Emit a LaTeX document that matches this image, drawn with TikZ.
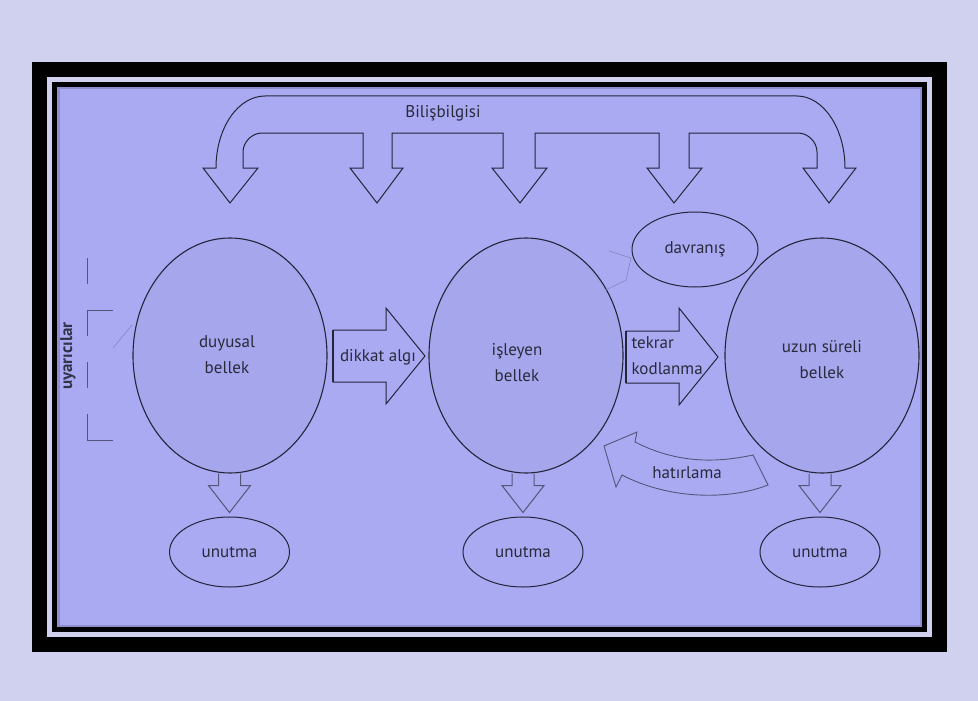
\documentclass[tikz,border=0pt]{standalone}
\usepackage{fontspec}
\setmainfont{PT Sans}
\usetikzlibrary{shapes.geometric,positioning,calc}
\definecolor{FrameLilac}{HTML}{D0D0EF}
\definecolor{PanelBlue}{HTML}{AAAAF3}
\definecolor{MemFill}{HTML}{A6A6EC}
\definecolor{LineInk}{HTML}{24243A}
\definecolor{SoftInk}{HTML}{55557A}
\definecolor{TextInk}{HTML}{2A2A3C}
\newcommand{\memfont}{\fontsize{17}{26}\selectfont}

\begin{document}
\begin{tikzpicture}[
  x=1pt, y=-1pt,
  mem/.style={ellipse, draw=LineInk, line width=1.1pt, fill=MemFill,
              minimum width=194pt, minimum height=235pt, inner sep=0pt},
  outcome/.style={ellipse, draw=LineInk, line width=1pt, text=TextInk,
              minimum width=120pt, minimum height=70pt, inner sep=0pt, font=\memfont},
  lbl/.style={text=TextInk, align=center, font=\memfont},
  hollow/.style={draw=LineInk, line width=1pt, line join=miter},
  faint/.style={draw=SoftInk, line width=0.9pt},
]
\useasboundingbox (0,0) rectangle (978,701);
% frame
\fill[FrameLilac] (0,0) rectangle (978,701);
\fill[black] (32,62) rectangle (947,652);
\fill[FrameLilac] (47,77) rectangle (932,637);
\fill[black] (52,82) rectangle (927,632);
\fill[PanelBlue] (57,87) rectangle (922,627);
\draw[black!35!PanelBlue, line width=2.5pt, opacity=0.45] (58.25,88.25) rectangle (920.75,625.75);

% memory stores
\node[mem] (duyusal) at (230,355.5) {};
\node[mem] (isleyen) at (526,355.5) {};
\node[mem] (uzun) at (822,355.5) {};
\node[lbl] (duyusalText) at (227,355) {duyusal\\bellek};
\node[lbl] (isleyenText) at (517,363) {işleyen\\bellek};
\node[lbl] (uzunText) at (822,360) {uzun süreli\\bellek};

% forgetting
\node[outcome] (forgetA) at (229.5,552) {unutma};
\node[outcome] (forgetB) at (523,552) {unutma};
\node[outcome] (forgetC) at (820,552) {unutma};
\node[outcome, minimum width=126pt, minimum height=75pt] (davranis) at (695,249.5) {davranış};

\foreach \src/\dst in {duyusal/forgetA, isleyen/forgetB, uzun/forgetC}{
  \coordinate (top) at (\src.south -| \dst.north);
  \draw[hollow, draw=SoftInk] ($(top)+(-11,0)$) -- ++(0,12) -- ++(-10,0)
    -- ($(top)+(0,39)$) -- ($(top)+(21,12)$) -- ++(-10,0) -- ++(0,-12);
}

% metacognition bracket
\draw[hollow] (216,168) .. controls (216,128) and (238,96) .. (265,96) -- (797,96)
  .. controls (823,96) and (845,128) .. (845,168) -- (856,168) -- (829,203) -- (803,168)
  -- (817,168) -- (817,152) .. controls (817,142) and (808,133) .. (798,133) -- (689,133)
  -- (689,168) -- (702,168) -- (674,203) -- (647,168) -- (659,168) -- (659,133)
  -- (535,133) -- (535,168) -- (547,168) -- (520,203) -- (492,168) -- (503,168)
  -- (503,133) -- (392,133) -- (392,168) -- (403,168) -- (377,203) -- (350,168)
  -- (363,168) -- (363,133) -- (262,133) .. controls (252,133) and (243,142) .. (243,152)
  -- (243,168) -- (258,168) -- (230,203) -- (203,168) -- cycle;
\node[lbl] (bilis) at (443,113) {Bilişbilgisi};

% attention arrow
\draw[hollow] (333,330) -- (386,330) -- (386,308) -- (425,356) -- (386,404)
  -- (386,382) -- (333,382) -- cycle;
\draw[LineInk, line width=1.6pt] (333,330) -- (333,382);
\node[lbl] (dikkat) at (378,357) {dikkat algı};

% rehearsal arrow
\draw[hollow] (626,331) -- (679,331) -- (679,308) -- (718,357) -- (679,405)
  -- (679,383) -- (626,383) -- cycle;
\draw[LineInk, line width=1.6pt] (626,331) -- (626,383);
\node[lbl, anchor=west, align=left] (tekrar) at (628,356) {tekrar\\kodlanma};

% retrieval arrow
\draw[faint] (604,446) -- (637,432) -- (635,442) .. controls (680,465) and (720,462) .. (753,455)
  -- (768,485) .. controls (730,500) and (670,500) .. (622,475) -- (616,487) -- cycle;
\node[lbl] (hatirlama) at (687,473) {hatırlama};

% stimuli
\node[lbl, text=SoftInk!60!black, font=\memfont\bfseries, rotate=90] (uyaricilar) at (68,356) {uyarıcılar};
\draw[faint, dash pattern=on 26pt off 26pt] (87,258) -- (87,440);
\draw[faint] (87,310) -- (113,310);
\draw[faint] (87,440) -- (113,440);
\draw[draw=SoftInk!45!PanelBlue, line width=0.6pt] (113,348) -- (132,325);
\draw[draw=SoftInk!45!PanelBlue, line width=0.6pt] (609,251) -- (631,258) -- (626,280) -- (606,290);
\end{tikzpicture}
\end{document}
